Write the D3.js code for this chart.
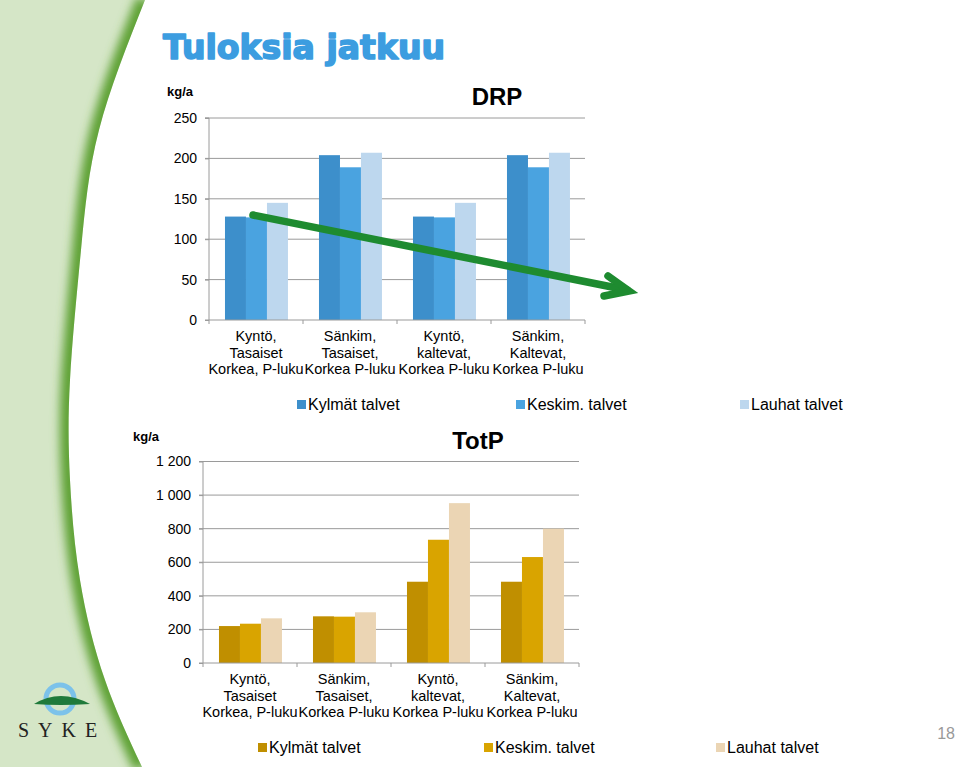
<!DOCTYPE html>
<html>
<head>
<meta charset="utf-8">
<script src="https://cdn.jsdelivr.net/npm/d3@7"></script>
<style>
  body { margin: 0; background: #fff; }
  svg { display: block; font-family: "Liberation Sans", Arial, sans-serif; }
</style>
</head>
<body>
<svg id="chart" width="960" height="767"></svg>
<script>
// categories and series
var categories = [
    ["Kyntö,", "Tasaiset", "Korkea, P-luku"],
    ["Sänkim,", "Tasaiset,", "Korkea P-luku"],
    ["Kyntö,", "kaltevat,", "Korkea P-luku"],
    ["Sänkim,", "Kaltevat,", "Korkea P-luku"]
];
var seriesNames = ["Kylmät talvet", "Keskim. talvet", "Lauhat talvet"];

// DRP values (kg/a)
var drpKylmat = [128, 204, 128, 204];
var drpKeskim = [127, 189, 127, 189];
var drpLauhat = [145, 207, 145, 207];
var drpTicks = [0, 50, 100, 150, 200, 250];

// TotP values (kg/a)
var totpKylmat = [220, 278, 484, 484];
var totpKeskim = [234, 276, 734, 631];
var totpLauhat = [266, 302, 952, 800];
var totpTicks = [0, 200, 400, 600, 800, 1000, 1200];

var drpColors = ['#3d8fcb', '#4aa3e0', '#bdd7ee'];
var totpColors = ['#c08f00', '#d9a400', '#ebd5b4'];

var svg = d3.select('#chart');

// --- left decoration band ---
var bandPts = [[145, 0], [99, 130], [81, 250], [70, 380], [70, 480], [80, 580], [105, 680], [142, 767]];
var edge = d3.line().curve(d3.curveNatural);
var shape = edge(bandPts) + 'L0,767L0,0Z';
var defs = svg.append('defs');
defs.append('clipPath').attr('id', 'bandClip').append('path').attr('d', shape);
defs.append('filter').attr('id', 'blur')
    .attr('x', '-50%').attr('y', '-10%').attr('width', '200%').attr('height', '120%')
    .append('feGaussianBlur').attr('stdDeviation', 5);
svg.append('path').attr('d', shape).attr('fill', '#d5e6c7');
svg.append('g').attr('clip-path', 'url(#bandClip)')
    .append('path').attr('d', edge(bandPts))
    .attr('fill', 'none').attr('stroke', '#5ea235').attr('stroke-width', 18)
    .attr('filter', 'url(#blur)');

// --- SYKE logo ---
var logo = svg.append('g');
logo.append('circle').attr('cx', 60).attr('cy', 699).attr('r', 14)
    .attr('fill', 'none').attr('stroke', '#7cc2ea').attr('stroke-width', 5);
logo.append('path')
    .attr('d', 'M34,704 Q60,688 90,704 Q60,706 34,704Z')
    .attr('fill', '#1f7a3a');
logo.append('text').attr('x', 62).attr('y', 737).attr('text-anchor', 'middle')
    .attr('font-family', '"Liberation Serif", "DejaVu Serif", serif')
    .attr('font-size', 20).attr('letter-spacing', 9).attr('fill', '#222')
    .text('SYKE');

// --- title ---
svg.append('text').attr('x', 163).attr('y', 59)
    .attr('font-size', 33).attr('font-weight', 'bold').attr('fill', '#3c9de0')
    .attr('stroke', '#3c9de0').attr('stroke-width', 1.6).attr('stroke-linejoin', 'round')
    .attr('font-family', '"DejaVu Sans", Verdana, sans-serif')
    .attr('textLength', 282).attr('lengthAdjust', 'spacingAndGlyphs')
    .text('Tuloksia jatkuu');

svg.append('text').attr('x', 955).attr('y', 739).attr('text-anchor', 'end')
    .attr('font-size', 16).attr('fill', '#999').text('18');

function tickFmt(d) {
    return d3.format(',')(d).replace(/,/g, ' ');
}

function drawChart(opt) {
    var g = svg.append('g');
    var y = d3.scaleLinear().domain([0, opt.max]).range([opt.y0, opt.yTop]);
    var x0 = d3.scaleBand().domain(d3.range(categories.length)).range([opt.x0, opt.x1]);
    var bw = x0.bandwidth();
    var x1 = d3.scaleBand().domain(d3.range(seriesNames.length)).range([bw * 0.17, bw * 0.84]);

    // gridlines
    g.selectAll('.grid').data(opt.ticks.slice(1)).enter().append('line')
        .attr('x1', opt.x0 - 4).attr('x2', opt.x1)
        .attr('y1', function (d) { return y(d); }).attr('y2', function (d) { return y(d); })
        .attr('stroke', '#9a9a9a').attr('stroke-width', 1);

    // bars
    var groups = g.selectAll('.grp').data(categories).enter().append('g')
        .attr('transform', function (d, i) { return 'translate(' + x0(i) + ',0)'; });
    groups.selectAll('rect').data(function (d, i) {
        return opt.values.map(function (s, k) { return { k: k, v: s[i] }; });
    }).enter().append('rect')
        .attr('x', function (d) { return x1(d.k); })
        .attr('width', x1.bandwidth())
        .attr('y', function (d) { return y(d.v); })
        .attr('height', function (d) { return opt.y0 - y(d.v); })
        .attr('fill', function (d) { return opt.colors[d.k]; });

    // y axis
    var yAxis = d3.axisLeft(y).tickValues(opt.ticks).tickSize(4).tickPadding(8).tickFormat(tickFmt);
    var ya = g.append('g').attr('transform', 'translate(' + opt.x0 + ',0)').call(yAxis);
    ya.select('.domain').attr('stroke', '#9a9a9a').attr('d', 'M-4,' + y(opt.max) + 'H0V' + opt.y0 + 'H-4');
    ya.selectAll('.tick line').attr('stroke', '#9a9a9a');
    ya.selectAll('.tick text').attr('font-size', 14).attr('fill', '#000')
        .attr('font-family', '"Liberation Sans", Arial, sans-serif');

    // x axis
    g.append('line').attr('x1', opt.x0).attr('x2', opt.x1)
        .attr('y1', opt.y0).attr('y2', opt.y0).attr('stroke', '#9a9a9a');
    g.selectAll('.xt').data(d3.range(categories.length + 1)).enter().append('line')
        .attr('x1', function (i) { return opt.x0 + i * bw; })
        .attr('x2', function (i) { return opt.x0 + i * bw; })
        .attr('y1', opt.y0).attr('y2', opt.y0 + 4).attr('stroke', '#9a9a9a');

    var labels = g.selectAll('.cat').data(categories).enter().append('text')
        .attr('text-anchor', 'middle').attr('font-size', 14.5)
        .attr('transform', function (d, i) { return 'translate(' + (x0(i) + bw / 2) + ',' + (opt.y0 + 21) + ')'; });
    labels.selectAll('tspan').data(function (d) { return d; }).enter().append('tspan')
        .attr('x', 0).attr('dy', function (d, i) { return i ? 16.5 : 0; })
        .text(function (d) { return d; });

    // unit + title
    g.append('text').attr('x', opt.unitX).attr('y', opt.unitY)
        .attr('font-size', 13).attr('font-weight', 'bold').text('kg/a');
    g.append('text').attr('x', opt.titleX).attr('y', opt.titleY).attr('text-anchor', 'middle')
        .attr('font-size', 24).attr('font-weight', 'bold').text(opt.title);

    // legend
    var leg = g.selectAll('.leg').data(seriesNames).enter().append('g')
        .attr('transform', function (d, i) { return 'translate(' + opt.legX[i] + ',' + opt.legY + ')'; });
    leg.append('rect').attr('x', 0).attr('y', -10).attr('width', 9).attr('height', 9)
        .attr('fill', function (d, i) { return opt.colors[i]; });
    leg.append('text').attr('x', 11).attr('y', 0).attr('font-size', 16).text(function (d) { return d; });

    return { x0: x0, y: y };
}

drawChart({
    values: [drpKylmat, drpKeskim, drpLauhat], colors: drpColors,
    ticks: drpTicks, max: 250, y0: 320, yTop: 118,
    x0: 209, x1: 585,
    unitX: 167, unitY: 96, title: 'DRP', titleX: 497, titleY: 105,
    legX: [297, 516, 740], legY: 410
});

drawChart({
    values: [totpKylmat, totpKeskim, totpLauhat], colors: totpColors,
    ticks: totpTicks, max: 1200, y0: 663, yTop: 461.5,
    x0: 203, x1: 579,
    unitX: 133, unitY: 441, title: 'TotP', titleX: 478, titleY: 449,
    legX: [258, 484, 716], legY: 753
});

// --- green trend arrow over DRP chart ---
var arrow = svg.append('g').attr('stroke', '#1e8b30').attr('stroke-width', 7.5)
    .attr('fill', 'none').attr('stroke-linecap', 'round');
arrow.append('line').attr('x1', 253).attr('y1', 215).attr('x2', 627).attr('y2', 290);
arrow.append('polyline').attr('points', '608,276 629,291 604,296')
    .attr('stroke-linejoin', 'miter');
</script>
</body>
</html>
